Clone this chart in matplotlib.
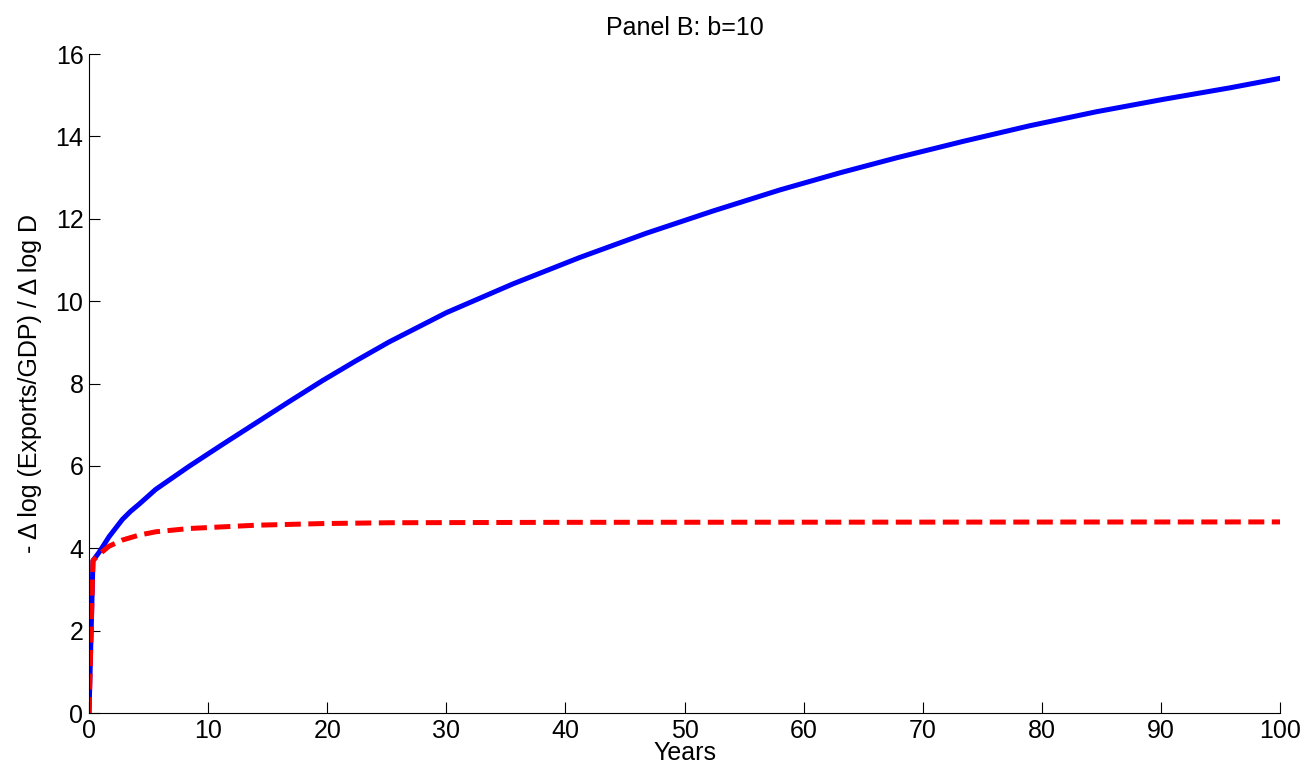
import matplotlib.pyplot as plt
import numpy as np

plt.rcParams['font.family'] = ['Liberation Sans', 'DejaVu Sans']

# values
blue_years = [0.0, 0.33, 0.84, 1.68, 2.8, 3.5, 4.2, 5.6, 8.4, 11.2, 14.0, 16.8, 19.6, 22.4, 25.2,
              30.0, 35.6, 41.2, 46.8, 52.4, 58.0, 63.1, 67.8, 73.4, 79.0, 84.6, 90.2, 95.8, 100]
blue = [0.0, 3.7, 3.9, 4.28, 4.7, 4.9, 5.07, 5.43, 5.99, 6.52, 7.04, 7.56, 8.07, 8.55, 9.01,
        9.72, 10.42, 11.06, 11.65, 12.19, 12.70, 13.12, 13.48, 13.88, 14.26, 14.6, 14.9, 15.18, 15.41]

red_years = [0.0, 0.33, 0.84, 1.68, 2.8, 4.2, 5.6, 8.4, 14.0, 19.6, 25.2, 40, 100]
red = [0.0, 3.7, 3.85, 4.05, 4.2, 4.32, 4.4, 4.48, 4.56, 4.6, 4.62, 4.63, 4.64]

fig = plt.figure(figsize=(13.15, 7.82), dpi=100)
ax = fig.add_axes([0.0677, 0.0882, 0.9057, 0.8427])

ax.plot(blue_years, blue, color='blue', linewidth=3.6, solid_joinstyle='round')
ax.plot(red_years, red, color='red', linewidth=3.6, dashes=(3.2, 1.5))

ax.set_xlim(0, 100)
ax.set_ylim(0, 16)
ax.set_xticks(np.arange(0, 101, 10))
ax.set_yticks(np.arange(0, 17, 2))
ax.tick_params(direction='in', length=8, width=0.8, labelsize=18, pad=4)
for s in ['top', 'right']:
    ax.spines[s].set_visible(False)
ax.set_xlabel('Years', fontsize=18, labelpad=-1)
ax.set_ylabel('- \u0394 log (Exports/GDP) / \u0394 log D', fontsize=18, labelpad=10)
ax.set_title('Panel B: b=10', fontsize=18, pad=14)

fig.savefig('out.png', dpi=100)
